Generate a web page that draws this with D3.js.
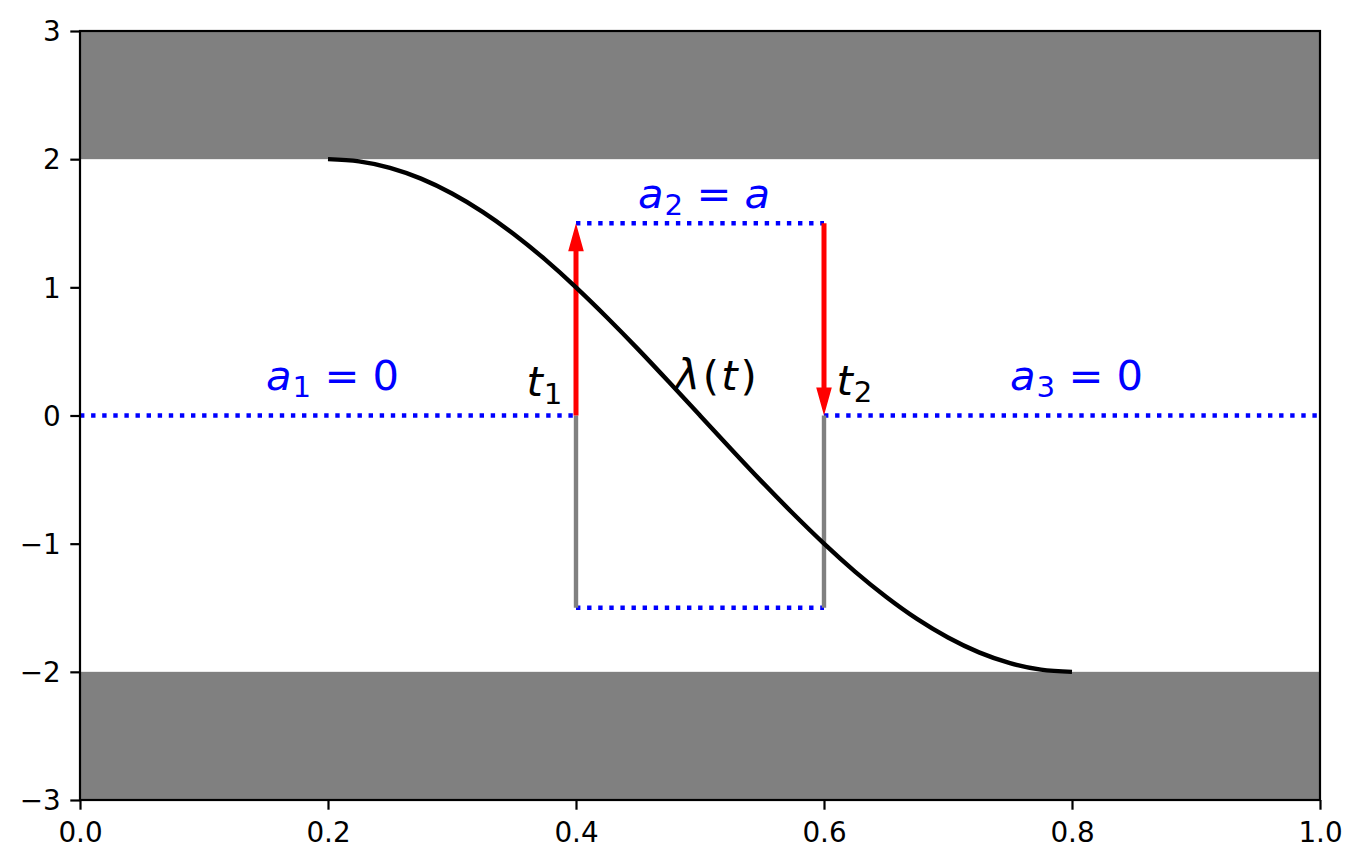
<!DOCTYPE html>
<html>
<head>
<meta charset="utf-8">
<script src="https://cdn.jsdelivr.net/npm/d3@7"></script>
<style>
  html, body { margin: 0; padding: 0; background: #fff; }
  svg { display: block; }
  .tick text { font-family: "DejaVu Sans", sans-serif; font-size: 27.8px; fill: #000; }
  .tick line { stroke: #000; stroke-width: 2.2px; }
  .math { font-family: "DejaVu Sans", sans-serif; font-size: 41.7px; }
</style>
</head>
<body>
<svg id="chart" width="1362" height="868"></svg>
<script>
// --- Daten ---
const xTicks = [0.0, 0.2, 0.4, 0.6, 0.8, 1.0];
const yTicks = [-3, -2, -1, 0, 1, 2, 3];

// verbotene Bereiche (grau)
const bands = [[2, 3], [-3, -2]];

// Kurve lambda(t)
const curveT = [0.2, 0.225, 0.25, 0.275, 0.3, 0.325, 0.35, 0.375, 0.4, 0.425, 0.45, 0.475, 0.5,
                0.525, 0.55, 0.575, 0.6, 0.625, 0.65, 0.675, 0.7, 0.725, 0.75, 0.775, 0.8];
const curveLambda = [2.0, 1.983, 1.932, 1.848, 1.732, 1.587, 1.414, 1.218, 1.0, 0.765, 0.518, 0.261, 0.0,
                     -0.261, -0.518, -0.765, -1.0, -1.218, -1.414, -1.587, -1.732, -1.848, -1.932, -1.983, -2.0];

// Niveaus a_i (blau gepunktet)
const levelStart = [0.0, 0.4, 0.4, 0.6];
const levelEnd   = [0.4, 0.6, 0.6, 1.0];
const levelValue = [0.0, 1.5, -1.5, 0.0];

// Schaltzeitpunkte t1, t2 (graue Linien von -1.5 bis 0)
const switchTimes = [0.4, 0.6];
const switchFrom = [-1.5, -1.5];
const switchTo = [0.0, 0.0];

// rote Pfeile
const arrowT = [0.4, 0.6];
const arrowFrom = [0.0, 1.5];
const arrowTo = [1.5, 0.0];

// Beschriftungen
const labelX = [0.15, 0.45, 0.75, 0.36, 0.48, 0.61];
const labelY = [0.2, 1.62, 0.2, 0.15, 0.2, 0.16];
const labelBase = ['a', 'a', 'a', 't', 'λ', 't'];
const labelSub = ['1', '2', '3', '1', '', '2'];
const labelRest = [' = 0', ' = ', ' = 0', '', '(', ''];
const labelColor = ['#0000ff', '#0000ff', '#0000ff', '#000', '#000', '#000'];

// --- Aufbau ---
const svg = d3.select('#chart');
const margin = { left: 80, right: 42, top: 31, bottom: 68 };
const width = 1362, height = 868;
const lw = 4.4;

const x = d3.scaleLinear().domain([0, 1]).range([margin.left, width - margin.right]);
const y = d3.scaleLinear().domain([-3, 3]).range([height - margin.bottom, margin.top]);

const plot = svg.append('g').attr('class', 'plot');

// A. graue Bänder
plot.selectAll('rect.band')
  .data(bands)
  .join('rect')
    .attr('class', 'band')
    .attr('x', x(0))
    .attr('width', x(1) - x(0))
    .attr('y', d => y(d[1]))
    .attr('height', d => y(d[0]) - y(d[1]))
    .attr('fill', '#808080');

// B. blaue gepunktete Niveaus
plot.selectAll('line.level')
  .data(levelValue.map((v, i) => ({ t0: levelStart[i], t1: levelEnd[i], v })))
  .join('line')
    .attr('class', 'level')
    .attr('x1', d => x(d.t0)).attr('x2', d => x(d.t1))
    .attr('y1', d => y(d.v)).attr('y2', d => y(d.v))
    .attr('stroke', '#0000ff')
    .attr('stroke-width', lw)
    .attr('stroke-dasharray', '4.4,6.7');

// C. graue Schaltlinien
plot.selectAll('line.switch')
  .data(switchTimes.map((t, i) => ({ t, a: switchFrom[i], b: switchTo[i] })))
  .join('line')
    .attr('class', 'switch')
    .attr('x1', d => x(d.t)).attr('x2', d => x(d.t))
    .attr('y1', d => y(d.a)).attr('y2', d => y(d.b))
    .attr('stroke', '#808080')
    .attr('stroke-width', lw);

// D. rote Pfeile (Schaft + Spitze)
const headLen = 28, headHalf = 7.8, shaftHalf = 2.5;
plot.selectAll('path.arrow')
  .data(arrowT.map((t, i) => ({ t, a: arrowFrom[i], b: arrowTo[i] })))
  .join('path')
    .attr('class', 'arrow')
    .attr('fill', '#ff0000')
    .attr('d', d => {
      const cx = x(d.t), y0 = y(d.a), y1 = y(d.b);
      const dir = y1 < y0 ? -1 : 1;       // -1 = nach oben
      const yb = y1 - dir * headLen;      // Basis der Spitze
      return `M${cx - shaftHalf},${y0} L${cx - shaftHalf},${yb} L${cx - headHalf},${yb}` +
             ` L${cx},${y1} L${cx + headHalf},${yb} L${cx + shaftHalf},${yb} L${cx + shaftHalf},${y0} Z`;
    });

// E. Kurve lambda(t)
const line = d3.line()
  .x((d, i) => x(curveT[i]))
  .y(d => y(d))
  .curve(d3.curveNatural);

plot.append('path')
  .datum(curveLambda)
  .attr('d', line)
  .attr('fill', 'none')
  .attr('stroke', '#000')
  .attr('stroke-width', lw);

// F. Beschriftungen (Mathtext-Imitat)
labelBase.forEach((b, i) => {
  const t = plot.append('text')
    .attr('class', 'math')
    .attr('x', x(labelX[i]))
    .attr('y', y(labelY[i]))
    .attr('fill', labelColor[i]);
  t.append('tspan').attr('font-style', 'italic').text(b);
  if (labelSub[i]) {
    t.append('tspan').attr('font-size', '29.2px').attr('dx', 1).attr('dy', 7.5).text(labelSub[i]);
  }
  if (labelRest[i]) {
    t.append('tspan').attr('dy', labelSub[i] ? -7.5 : 0).attr('dx', i === 4 ? 3 : 0)
      .style('white-space', 'pre').text(labelRest[i]);
  }
  // Nachsatz: a_2 = a  bzw.  λ(t)
  if (i === 1) t.append('tspan').attr('font-style', 'italic').text('a');
  if (i === 4) {
    t.append('tspan').attr('font-style', 'italic').attr('dx', 2).text('t');
    t.append('tspan').attr('dx', 3).text(')');
  }
});

// G. Achsen
const xAxis = d3.axisBottom(x).tickValues(xTicks).tickFormat(d3.format('.1f'))
  .tickSize(9.7).tickPadding(9.7);
const yAxis = d3.axisLeft(y).tickValues(yTicks).tickFormat(d3.format('d'))
  .tickSize(9.7).tickPadding(9.7);

svg.append('g')
  .attr('transform', `translate(0,${y(-3)})`)
  .call(xAxis)
  .call(g => g.select('.domain').remove())
  .call(g => g.selectAll('text').attr('dy', '0.8em'));

svg.append('g')
  .attr('transform', `translate(${x(0)},0)`)
  .call(yAxis)
  .call(g => g.select('.domain').remove())
  .call(g => g.selectAll('text').attr('dy', '0.35em'));

// Rahmen
svg.append('rect')
  .attr('x', x(0)).attr('y', y(3))
  .attr('width', x(1) - x(0)).attr('height', y(-3) - y(3))
  .attr('fill', 'none')
  .attr('stroke', '#000')
  .attr('stroke-width', 2.2);
</script>
</body>
</html>
